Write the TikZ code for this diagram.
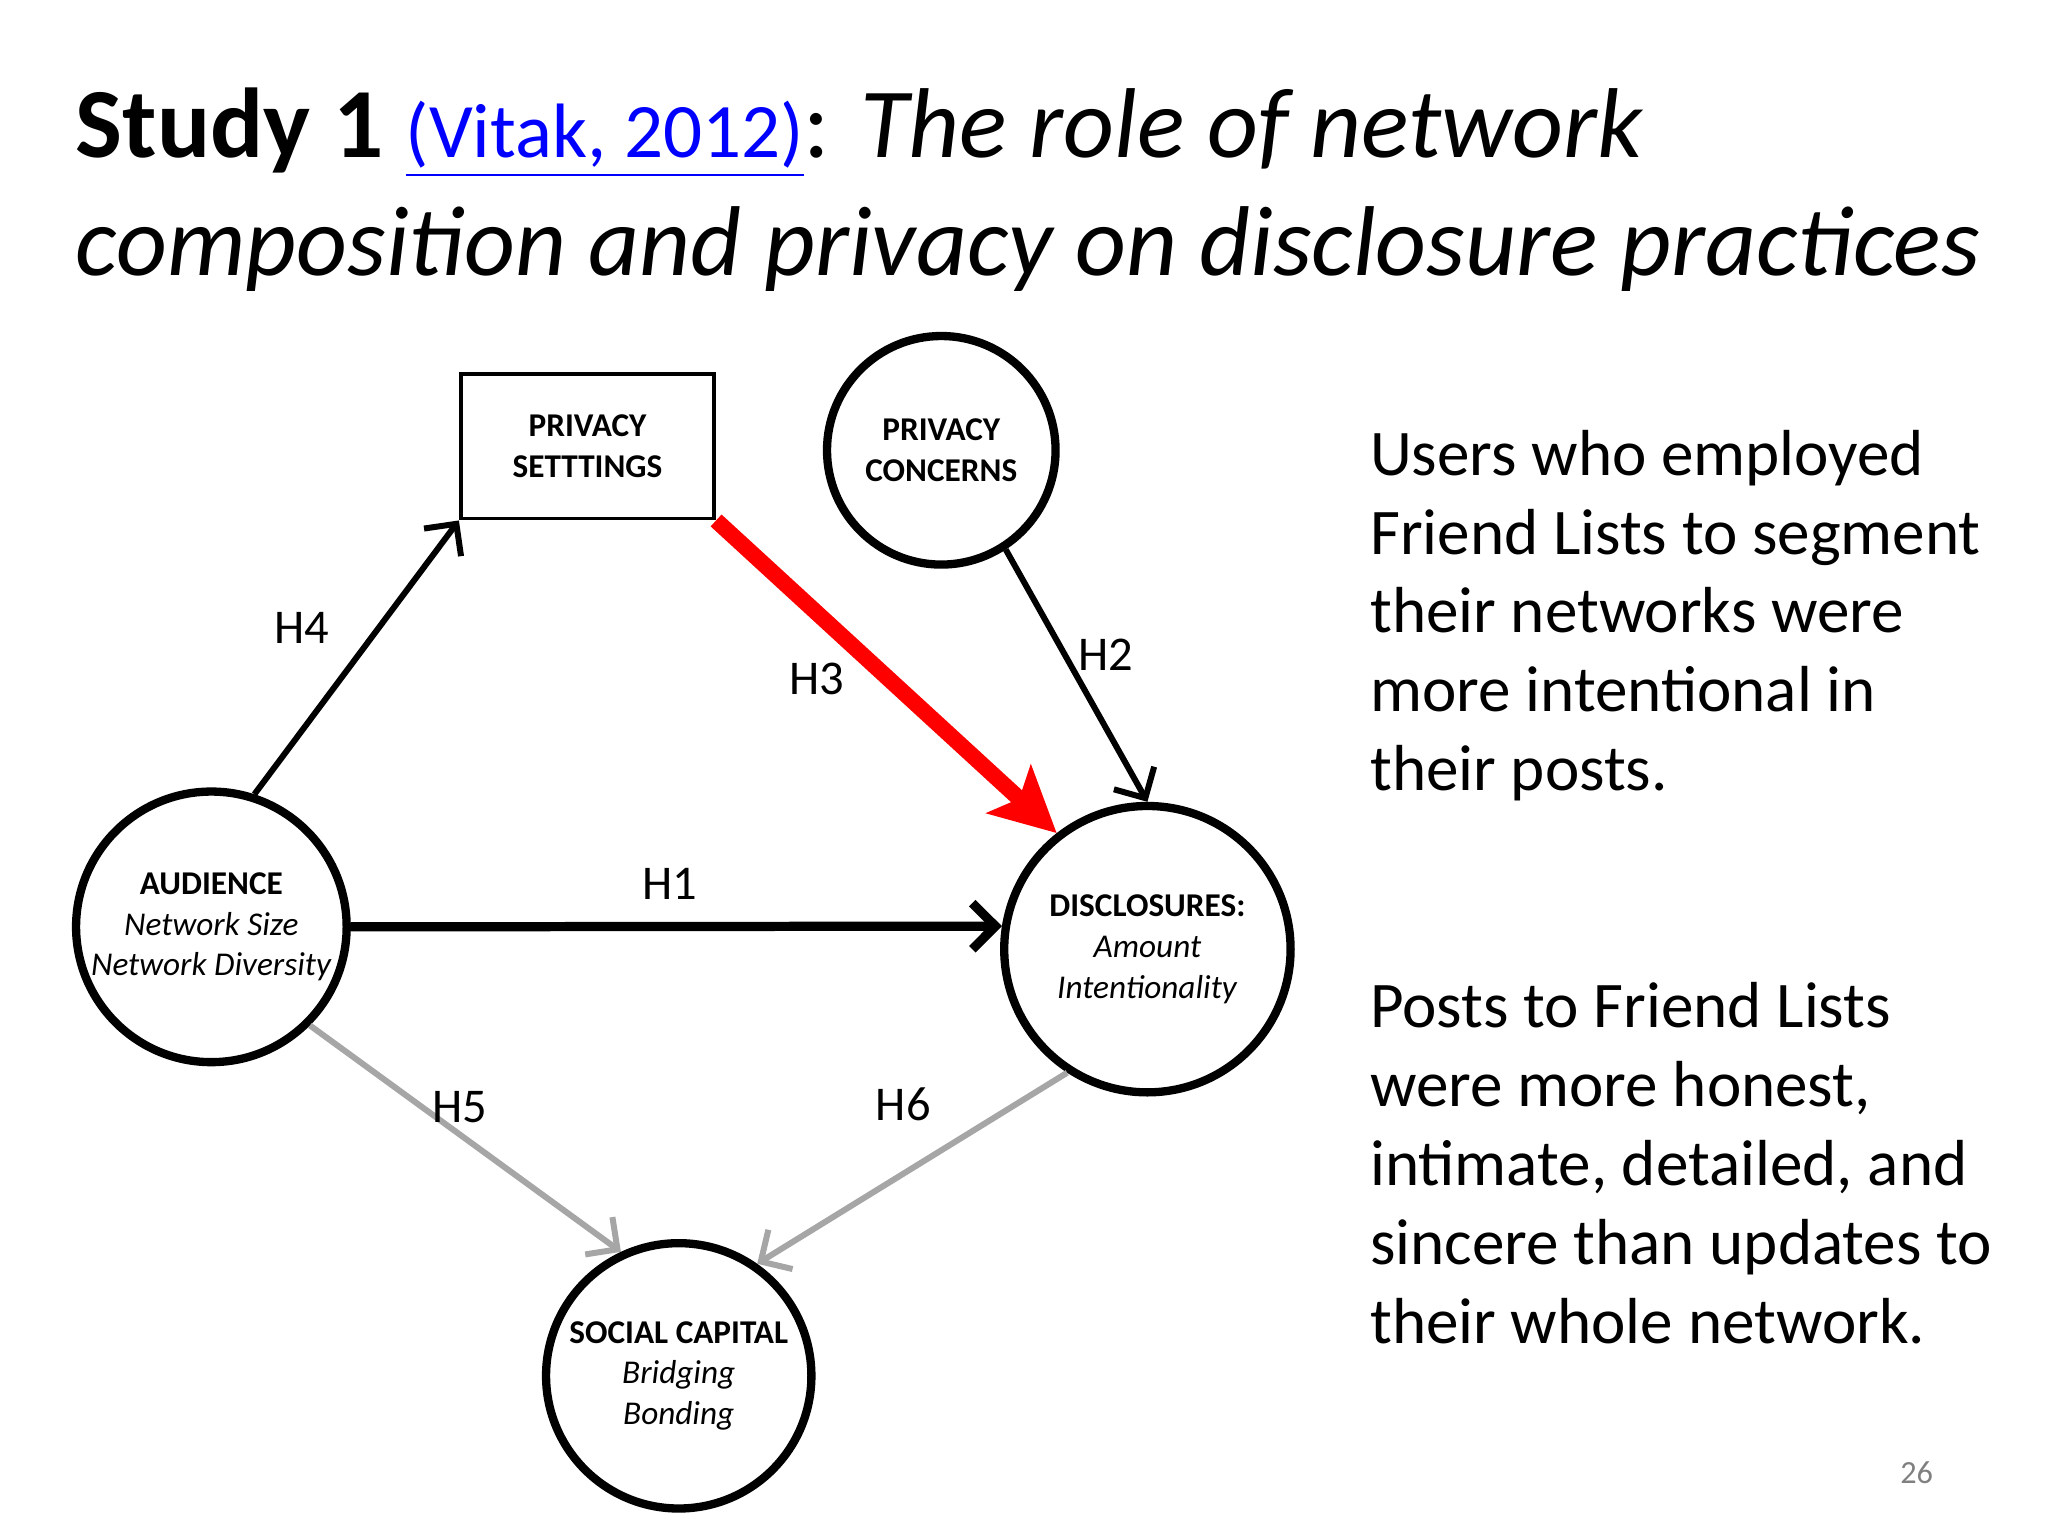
\documentclass[tikz,border=0pt]{standalone}
\usepackage{fontspec}
\setmainfont{Carlito}
\usetikzlibrary{arrows.meta}
\begin{document}
\begin{tikzpicture}[x=0.01cm,y=-0.01cm,
 circ/.style={circle,draw,line width=1.8pt,align=center,inner sep=0pt,font=\fontsize{7.2}{8.8}\selectfont},
 lbl/.style={font=\fontsize{10.5}{12}\selectfont},
 arr/.style={line width=1.3pt,-{Straight Barb[length=5pt,width=10pt]}},
 rt/.style={anchor=base west,inner sep=0pt,font=\fontsize{14.1}{17}\selectfont}]
\useasboundingbox (0,0) rectangle (1560,1170);
\node[anchor=base west,inner sep=0pt,font=\fontsize{21.5}{25}\selectfont] (t1) at (57,120) {\textbf{Study 1} \textcolor{blue}{\fontsize{16.7}{20}\selectfont\underline{(Vitak, 2012)}}: \textit{The role of network}};
\node[anchor=base west,inner sep=0pt,font=\fontsize{21.5}{25}\selectfont] (t2) at (57,210) {\textit{composition and privacy on disclosure practices}};
\node[draw,line width=0.8pt,minimum width=1.93cm,minimum height=1.10cm,align=center,font=\fontsize{7.2}{8.8}\selectfont\bfseries] (ps) at (447.5,340) {PRIVACY\\SETTTINGS};
\node[circ,minimum size=1.74cm,font=\fontsize{7.2}{8.8}\selectfont\bfseries] (pc) at (717,343) {PRIVACY\\CONCERNS};
\node[circ,minimum size=2.06cm] (au) at (161,706) {\textbf{AUDIENCE}\\\textit{Network Size}\\\textit{Network Diversity}};
\node[circ,minimum size=2.18cm] (di) at (874,723) {\textbf{DISCLOSURES:}\\\textit{Amount}\\\textit{Intentionality}};
\node[circ,minimum size=2.02cm] (sc) at (517,1048) {\textbf{SOCIAL CAPITAL}\\\textit{Bridging}\\\textit{Bonding}};
\draw[arr] (au.72) -- (ps.south west);
\draw[red,line width=3.5pt,-{Stealth[length=14pt,width=14pt,inset=3pt]}] (ps.south east) -- (di.128);
\draw[arr] (pc.-57) -- (di.90);
\draw[arr,line width=2pt] (au.east) -- (di.171);
\draw[arr,gray!70] (au.-45) -- (sc.115);
\draw[arr,gray!70] (di.-123) -- (sc.55);
\node[lbl] (h4) at (230,478) {H4};
\node[lbl] (h3) at (622,517) {H3};
\node[lbl] (h2) at (842,499) {H2};
\node[lbl] (h1) at (510,673) {H1};
\node[lbl] (h5) at (350,843) {H5};
\node[lbl] (h6) at (688,841) {H6};
\node[rt] (r1) at (1043,362) {Users who employed};
\node[rt] (r2) at (1043,422) {Friend Lists to segment};
\node[rt] (r3) at (1043,482) {their networks were};
\node[rt] (r4) at (1043,542) {more intentional in};
\node[rt] (r5) at (1043,602) {their posts.};
\node[rt] (s1) at (1043,783) {Posts to Friend Lists};
\node[rt] (s2) at (1043,843) {were more honest,};
\node[rt] (s3) at (1043,903) {intimate, detailed, and};
\node[rt] (s4) at (1043,963) {sincere than updates to};
\node[rt] (s5) at (1043,1023) {their whole network.};
\node[gray,font=\fontsize{7}{8}\selectfont] (pg) at (1460,1122) {26};
\end{tikzpicture}
\end{document}
